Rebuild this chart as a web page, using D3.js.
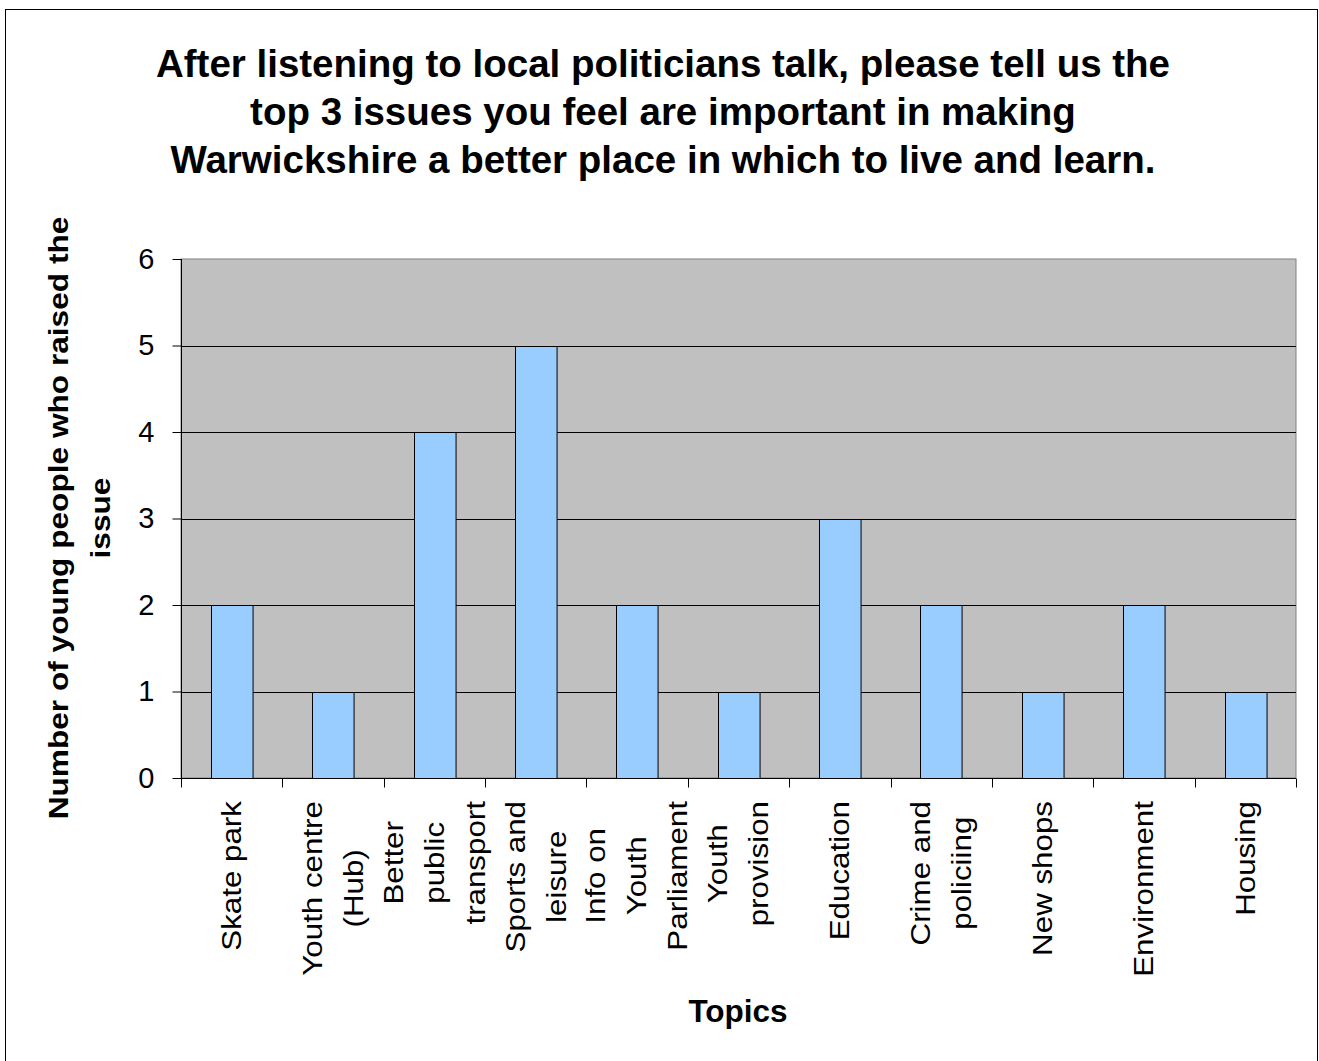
<!DOCTYPE html>
<html><head><meta charset="utf-8">
<script src="https://cdn.jsdelivr.net/npm/d3@7"></script>
<style>body{margin:0;background:#fff}svg{display:block}text{font-family:"Liberation Sans",Arial,sans-serif;fill:#000}</style>
</head><body>
<script>
const categories = ["Skate park","Youth centre (Hub)","Better public transport","Sports and leisure","Info on Youth Parliament","Youth provision","Education","Crime and policiing","New shops","Environment","Housing"];
const labelLines = [["Skate park"],["Youth centre","(Hub)"],["Better","public","transport"],["Sports and","leisure"],["Info on","Youth","Parliament"],["Youth","provision"],["Education"],["Crime and","policiing"],["New shops"],["Environment"],["Housing"]];
const values = [2,1,4,5,2,1,3,2,1,2,1];
const yTicks = [0,1,2,3,4,5,6];
const titleLines = ["After listening to local politicians talk, please tell us the","top 3 issues you feel are important in making","Warwickshire a better place in which to live and learn."];
const yTitleLines = ["Number of young people who raised the","issue"];
const xTitle = "Topics";

const W=1319,H=1061;
const svg=d3.select("body").append("svg").attr("width",W).attr("height",H);
svg.append("rect").attr("x",5.5).attr("y",9.5).attr("width",1312).attr("height",1070).attr("fill","#fff").attr("stroke","#000").attr("stroke-width",1);

const L=181,R=1296,T=259,B=778;
const x=d3.scaleBand().domain(categories).range([L,R]).padding(0);
const y=d3.scaleLinear().domain([0,6]).range([B,T]);

svg.append("rect").attr("x",L).attr("y",T).attr("width",R-L).attr("height",B-T).attr("fill","#C0C0C0").attr("stroke","#808080").attr("stroke-width",1);
svg.append("g").selectAll("line").data(yTicks.filter(d=>d>0&&d<6)).join("line")
  .attr("x1",L).attr("x2",R).attr("y1",d=>Math.round(y(d))+0.5).attr("y2",d=>Math.round(y(d))+0.5).attr("stroke","#000");

const bw=x.step()*0.41;
svg.append("g").selectAll("rect").data(values).join("rect")
  .attr("x",(d,i)=>Math.round(x(categories[i])+x.step()/2-bw/2)+0.5)
  .attr("y",d=>Math.round(y(d))+0.5)
  .attr("width",bw).attr("height",d=>Math.round(y(0))-Math.round(y(d)))
  .attr("fill","#99CCFF").attr("stroke","#000");

// y axis
const ya=svg.append("g").attr("transform",`translate(${L+0.5},0)`).call(d3.axisLeft(y).tickValues(yTicks).tickSize(9).tickPadding(18).tickFormat(d3.format("d")));
ya.select(".domain").attr("stroke","#000").attr("d",`M0,${T}V${B}`);
ya.selectAll(".tick line").attr("stroke","#000");
ya.selectAll(".tick text").attr("font-size",29).attr("font-family","Liberation Sans, Arial, sans-serif").attr("fill","#000");

// x axis
const xa=svg.append("g").attr("transform",`translate(0,${B+0.5})`);
xa.append("line").attr("x1",L).attr("x2",R).attr("stroke","#000");
const bounds=categories.map(c=>x(c)).concat([R]);
xa.selectAll("line.t").data(bounds).join("line").attr("class","t")
  .attr("x1",d=>Math.round(d)+0.5).attr("x2",d=>Math.round(d)+0.5).attr("y1",0).attr("y2",9).attr("stroke","#000");

const stretch=1.16, labelTop=801, lh=41;
labelLines.forEach((lines,i)=>{
  const cx=x(categories[i])+x.step()/2;
  const g=svg.append("g");
  const tmp=lines.map(s=>g.append("text").attr("font-size",27).text(s));
  const maxLen=d3.max(tmp,t=>t.node().getComputedTextLength())*stretch;
  const n=lines.length;
  tmp.forEach((t,j)=>{
    const lx=cx+(j-(n-1)/2)*lh;
    t.attr("text-anchor","middle").attr("dominant-baseline","central")
     .attr("transform",`translate(${lx},${labelTop+maxLen/2}) rotate(-90) scale(${stretch},1)`);
  });
});

// titles
svg.append("g").selectAll("text").data(titleLines).join("text")
  .attr("x",663).attr("y",(d,i)=>77+i*48).attr("text-anchor","middle")
  .attr("font-size",38.5).attr("font-weight","bold").text(d=>d);

yTitleLines.forEach((s,j)=>{
  svg.append("text").attr("text-anchor","middle").attr("dominant-baseline","central")
    .attr("font-size",28).attr("font-weight","bold")
    .attr("transform",`translate(${58+j*42},518) rotate(-90) scale(1.13,1)`).text(s);
});

svg.append("text").attr("x",738).attr("y",1022).attr("text-anchor","middle")
  .attr("font-size",31.5).attr("font-weight","bold").text(xTitle);
</script>
</body></html>
